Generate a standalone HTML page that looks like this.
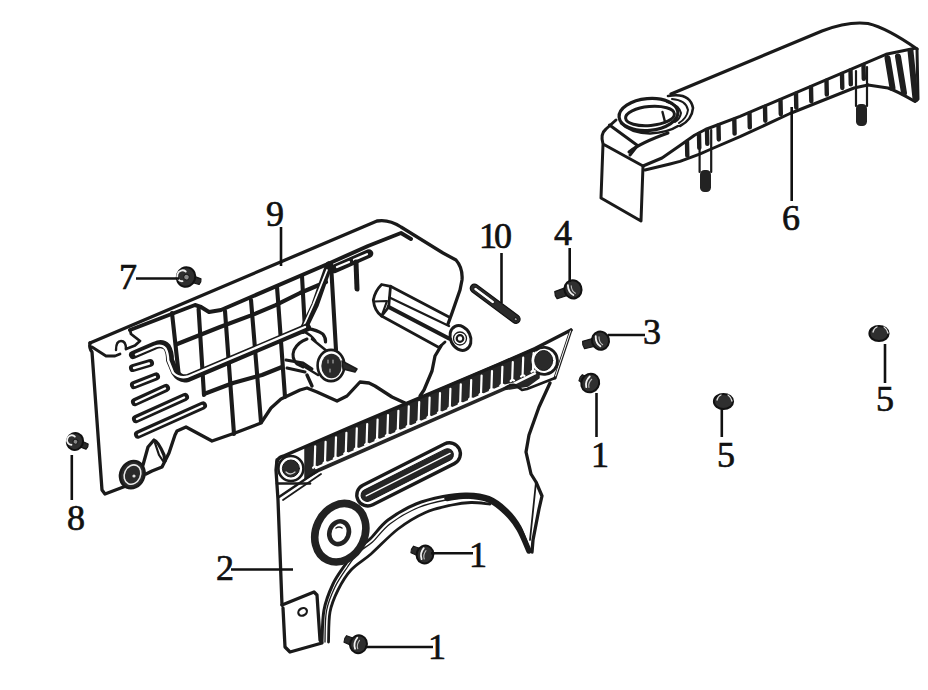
<!DOCTYPE html>
<html><head><meta charset="utf-8">
<style>
html,body{margin:0;padding:0;background:#fff;}
body{width:928px;height:690px;overflow:hidden;}
svg{display:block;}
text{font-family:"Liberation Serif",serif;font-size:36px;fill:#111;stroke:#111;stroke-width:0.7px;}
</style></head>
<body>
<svg width="928" height="690" viewBox="0 0 928 690">
<rect width="928" height="690" fill="#fff"/>
<g fill="none" stroke="#1a1a1a" stroke-linecap="round" stroke-linejoin="round">

<!-- ============ PART 6 (top right cover) ============ -->
<g id="p6" stroke-width="3">
  <!-- top outer edge -->
  <path d="M671 94 L822 31 Q848 21 868 23.5 Q887 28 917 49" stroke-width="3.2"/>
  <!-- right end face -->
  <path d="M917 49 L918 99 L915 101.5 Q897 91 888 88 L868 85"/>
  <!-- top face lower edge -->
  <path d="M643 166 L662 158 L680 145.5 L694.5 135.3 L705.4 129.5 L740 116.4 L886 54.3 L914 48.5"/>
  <!-- fins bottom line -->
  <path d="M645 170 L670 164 L680 161.4 L699.6 154.1 L711.2 149 L740 136.7 L790 113.5 L854 88 L868 85"/>
  <!-- block -->
  <path d="M603 144 L601 198 L641 221 L643 166 L603 144 Q600 134 606 129 L616 120"/>
  <path d="M609.5 125 L637.5 145.5 L630 155"/>
  <path d="M629 152 Q640 143 668 133"/>
  <!-- ring boss -->
  <ellipse cx="648.5" cy="114.5" rx="29.5" ry="16" transform="rotate(-5 648.5 114.5)" stroke-width="3.2"/>
  <ellipse cx="650" cy="116" rx="24.5" ry="9.5" transform="rotate(-5 650 116)" stroke-width="3"/>
  <path d="M621 123 Q630 132.5 650 133.5 Q668 132.5 678 126" stroke-width="2.6"/>
  <path d="M668 96 Q690 92 693 108 Q692 120 680 126" stroke-width="2.6"/>
  <path d="M672 99 Q686 100 688 110 Q687 118 679 123" stroke-width="2"/>
  <path d="M667 102 Q679 105 681 113 Q680 119 675 122" stroke-width="2"/>
  <path d="M662.5 112 L665 122" stroke-width="2.4"/>
</g>
<g id="p6fins" stroke="#1e1e1e" stroke-width="4.4" stroke-linecap="round">
  <path d="M687 141.6 L687.3 155.6 M699 133.9 L699.3 147.9 M707 129.9 L707.3 143.9 M718.5 125.5 L718.8 139.5 M734.3 119.6 L734.5999999999999 133.6 M749.5 113.4 L749.8 127.4 M765 106.8 L765.3 120.8 M780.5 100.2 L780.8 114.2 M796 93.6 L796.3 107.6 M811 87.2 L811.3 101.2 M826.5 80.6 L826.8 94.6 M842 74.0 L842.3 88.0 M850.5 70.4 L850.8 84.4 M863.5 64.9 L863.8 78.9 "/>
  <path d="M887.5 58 L892.5 88 M898 56.5 L904 93 M910.5 51 L915.5 99" stroke-width="6"/>
</g>
<g id="p6pegs" stroke-width="2.2">
  <path d="M699.6 137 L699.6 172 M711.2 130 L711.2 172"/>
  <path d="M856 71 L856 106 M867 67 L867 106"/>
</g>
<g fill="#222" stroke="none">
  <rect x="700" y="170" width="11" height="22" rx="4.5"/>
  <rect x="856" y="104" width="11" height="22" rx="4.5"/>
</g>

<!-- ============ PART 9 (left cover) ============ -->
<g id="p9" stroke-width="3.3">
  <!-- outer outline top + right -->
  <path d="M90 343 L377 221 Q389 219 401 227 L443 253 L456 260 Q463 268 462 280 L460 290 L452 313 L448 324"/>
  <!-- left edge -->
  <path d="M90 343 Q89 348 92 352 L102 490 L105 494 L126 486"/>
  <!-- bottom outline -->
  <path d="M143 465 L148 447 L154 440 Q158 441 164 455 L165 461 L162 467 L152 471 L146 474"/>
  <path d="M155 443 L159 455 L163 461" stroke-width="2.2"/>
  <path d="M165 461 L169 453 L175 435 L177 431 L186 427 L212 441 L235 433 L261 423 L271 408 L281 399 L300 390 L307 388 L317 392 L337 401 L347 396 L360 382 L369 383 L375 386 L392 397 L405 403"/>
  <path d="M441 346 L435 356 L432 371 L424 390 L420 396"/>
  <!-- top face front edge + notch -->
  <path d="M92 347 L106 356 L115 356 L120 354 M126 349 L135 345.5 L140 341 L131 334 L130 330" stroke-width="2.8"/>
  <path d="M116 350 Q116 341 121 341 Q126 341 126 349" stroke-width="2.4"/>
  <!-- rim inner thick line -->
  <path d="M130 330 L195 305 L201 307 L209 312 L221 310 L330 263 L368 246 L401 233 L411 239" stroke-width="4"/>
  <!-- small capsule near T -->
  <path d="M334 269 L369 253.5" stroke-width="8.6"/>
  <path d="M337 267 L349 262 M354 259.8 L367 254.2" stroke="#fff" stroke-width="2.2"/>
  <!-- T drip -->
  <path d="M356 262 L357 289" stroke-width="5"/>
  <!-- grid -->
  <g stroke-width="4.1">
    <path d="M172 313 L179 377"/>
    <path d="M198.6 309 L204 395"/>
    <path d="M225 311 L234 434"/>
    <path d="M251 300 L261 422"/>
    <path d="M277 287 L278 300 L285 397"/>
    <path d="M302 276 L305 330"/>
    <path d="M331 264 L336 350"/>
    <!-- rows -->
    <path d="M176 344.5 L220 327 L250.4 315.7 L275.7 305.2 L300 293 L326 282"/>
    <path d="M204 394 L233 383 L262 375 L282 367"/>
  </g>
  <!-- diagonal double strut -->
  <path d="M329 265 L315 305 L303 330" stroke-width="7.5"/>
  <path d="M327 270 L313 305 L304 325" stroke="#fff" stroke-width="1.8"/>
  <!-- channel (double line) -->
  <path d="M133 355 L155 345.5 Q162 342 167 347 Q170 352 170 360 L175 372 Q180 380 188 378 L307 327.5" stroke-width="8"/>
  <path d="M136 354.5 L155 346.5 Q161.5 344 165.5 348.5 Q168 353 168.2 360.5 L173 372.5 Q179 379 188 376.5 L305 327" stroke="#fff" stroke-width="2.4"/>
  <!-- slots -->
  <g stroke-width="8">
    <path d="M133 368 L150 363"/>
    <path d="M134 385 L156 376.5"/>
    <path d="M135 402 L166 388"/>
    <path d="M136 419 L185 397"/>
    <path d="M138 434.5 L203 405.5"/>
  </g>
  <g stroke-width="2.4" stroke="#fff">
    <path d="M134 368 L149 363.5"/>
    <path d="M135 385 L155 377"/>
    <path d="M136 402 L165 388.5"/>
    <path d="M137 419 L184 397.5"/>
    <path d="M139 434.5 L202 406"/>
  </g>
  <!-- grommet bottom-left -->
  <ellipse cx="132.3" cy="474.6" rx="12" ry="14" transform="rotate(25 132.3 474.6)" fill="#2a2a2a" stroke-width="2.4"/>
  <ellipse cx="132.5" cy="474.6" rx="8" ry="10" transform="rotate(25 132.5 474.6)" stroke="#e8e8e8" stroke-width="1.6"/>
  <circle cx="134" cy="476" r="1.6" fill="#ddd" stroke="none"/>
  <!-- boss cylinder -->
  <path d="M307 339 Q298 342 294 350 Q291 358 297 364 L303 367" stroke-width="3"/>
  <path d="M307.5 328.7 Q317 330 322.8 334 Q326 338 325.5 342" stroke-width="3.2"/>
  <path d="M305.4 332.4 Q311 335 315.2 340.7" stroke-width="2.6"/>
  <path d="M312 339 L328 352" stroke-width="2.6"/>
  <path d="M300 364 L318 375" stroke-width="2.6"/>
  <path d="M286 360 L303 363 L312 369 M287 368 L305 372" stroke-width="3"/>
  <path d="M307 375 L312 386" stroke-width="3.4"/>
  <ellipse cx="331" cy="365.5" rx="13.4" ry="15.6" fill="#fff" stroke-width="2.6"/>
  <ellipse cx="331.5" cy="366" rx="10.2" ry="12.2" fill="#2a2a2a" stroke="none"/>
  <path d="M328 360 v3 M333 360 v3 M330 369 v3" stroke="#aaa" stroke-width="1.2"/>
  <path d="M342 361 L357 369 L355 372 L343 369 Z" fill="#2a2a2a" stroke-width="1.5"/>
  <!-- shaft -->
  <path d="M381.6 284.5 L390.5 286.3 L389.5 297.5 L388.7 307 L381.6 316 Q374.5 311 373.3 300 Q375 291 381.6 284.5 Z" stroke-width="2.8"/>
  <path d="M374 301.5 L387 301 L381.6 316" stroke-width="2.2"/>
  <path d="M390.5 286.3 L449 317 M381.6 316 L439 347.5" stroke-width="2.8"/>
  <path d="M389.5 297.5 L449 326" stroke-width="2.4"/>
  <path d="M388.7 307 L449 338.5" stroke-width="4.2"/>
  <path d="M439 347.5 L445 342" stroke-width="2.8"/>
  <!-- ear -->
  <ellipse cx="460.5" cy="338" rx="10" ry="12.8" transform="rotate(-25 460.5 338)" fill="#fff" stroke-width="3"/>
  <circle cx="460" cy="338.5" r="6.5" stroke-width="1.3"/>
  <circle cx="460" cy="338.5" r="3.3" stroke-width="2.2"/>
</g>
<!-- ============ PART 2 (front cover) ============ -->
<g id="p2">
  <!-- dark fin strip -->
  <path d="M305 446.7 L539 346.5 L539 378 L528 386 L505 389.6 L440 418.0 L320 470.7 L305 479.2 Z" fill="#262626" stroke="#262626" stroke-width="1.5"/>
  <path d="M315.2 446.3 L314.6 466.3 l-1.5 1.5 M314.6 466.3 l1.8 0.8 M325.6 441.8 L325.0 461.7 l-1.5 1.5 M325.0 461.7 l1.8 0.8 M336.0 437.3 L335.4 457.1 l-1.5 1.5 M335.4 457.1 l1.8 0.8 M346.4 432.9 L345.8 452.4 l-1.5 1.5 M345.8 452.4 l1.8 0.8 M356.8 428.4 L356.2 447.9 l-1.5 1.5 M356.2 447.9 l1.8 0.8 M367.2 424.0 L366.6 443.3 l-1.5 1.5 M366.6 443.3 l1.8 0.8 M377.6 419.6 L377.0 438.8 l-1.5 1.5 M377.0 438.8 l1.8 0.8 M388.0 415.2 L387.4 434.3 l-1.5 1.5 M387.4 434.3 l1.8 0.8 M398.4 410.8 L397.8 429.7 l-1.5 1.5 M397.8 429.7 l1.8 0.8 M408.8 406.4 L408.2 425.2 l-1.5 1.5 M408.2 425.2 l1.8 0.8 M419.2 402.0 L418.6 420.6 l-1.5 1.5 M418.6 420.6 l1.8 0.8 M429.6 397.6 L429.0 416.1 l-1.5 1.5 M429.0 416.1 l1.8 0.8 M440.0 393.2 L439.4 411.5 l-1.5 1.5 M439.4 411.5 l1.8 0.8 M450.4 388.8 L449.8 407.0 l-1.5 1.5 M449.8 407.0 l1.8 0.8 M460.8 384.4 L460.2 402.5 l-1.5 1.5 M460.2 402.5 l1.8 0.8 M471.2 380.0 L470.6 397.9 l-1.5 1.5 M470.6 397.9 l1.8 0.8 M481.6 375.6 L481.0 393.4 l-1.5 1.5 M481.0 393.4 l1.8 0.8 M492.0 371.2 L491.4 388.8 l-1.5 1.5 M491.4 388.8 l1.8 0.8 M502.4 366.8 L501.8 384.3 l-1.5 1.5 M501.8 384.3 l1.8 0.8 M512.8 362.2 L512.2 379.6 l-1.5 1.5 M512.2 379.6 l1.8 0.8 M523.2 357.7 L522.6 375.0 l-1.5 1.5 M522.6 375.0 l1.8 0.8 M533.6 353.2 L533.0 370.3 l-1.5 1.5 M533.0 370.3 l1.8 0.8" stroke="#fff" stroke-width="2.2" stroke-linecap="round" fill="none"/>
  <path d="M316 468.0 L503 386.1 L514 383.7 L548 366.9 L555 374" stroke="#fff" stroke-width="2.4" fill="none"/>
  <!-- outline -->
  <g fill="none" stroke="#1a1a1a" stroke-width="3.3" stroke-linecap="round" stroke-linejoin="round">
    <path d="M277 462 Q278 457.5 283 456.2 L350 427.3 L500 363.8 L535 348.6 L571 330" stroke-width="3.4"/>
    <path d="M571 330 L555 378" stroke-width="3"/>
    <path d="M570.5 331 L555.5 376" stroke="#fff" stroke-width="1"/>
    <path d="M550 383 L539 407 L529 435 L526 452 L531 474 L536 482 L542 496 L539 509 L533 540 L532 552"/>
    <path d="M536 482 L530 540" stroke-width="1.8"/>
    <!-- notch under strip right -->
    <path d="M505 388 Q510 384 515 385 L522 390 L527 389 L555 378" stroke-width="2.6"/>
    <!-- left edge -->
    <path d="M277 460 L276 470 L278 500 L282 605"/>
    <!-- bracket -->
    <path d="M282 605 L314 592 L317 595 L320 640 L322 643 L290 652 L285 647 L283 608"/>
    <ellipse cx="302.6" cy="611.9" rx="4.5" ry="3.6" transform="rotate(-30 302.6 611.9)" stroke-width="2.2"/>
    <!-- lines below strip left -->
    <path d="M277 483.5 L310 483.5" stroke-width="2.6"/>
    <path d="M279 497 L319 470" stroke-width="2.6"/>
    <path d="M283 500 L321 474" stroke-width="1.8"/>
    <!-- big arc double -->
    <path d="M322.0 642.0 C322.3 636.7 322.2 619.7 324.0 610.0 C325.8 600.3 329.5 591.5 333.0 584.0 C336.5 576.5 341.2 570.7 345.0 565.0 C348.8 559.3 351.8 554.3 356.0 550.0 C360.2 545.7 364.7 544.0 370.0 539.0 C375.3 534.0 380.3 525.8 388.0 520.0 C395.7 514.2 406.8 507.9 416.0 504.0 C425.2 500.1 434.5 498.2 443.0 496.5 C451.5 494.8 459.3 493.8 467.0 494.0 C474.7 494.2 482.3 494.8 489.0 497.5 C495.7 500.2 501.8 505.1 507.0 510.0 C512.2 514.9 516.2 520.1 520.0 527.0 C523.8 533.9 527.9 547.4 529.5 551.5" stroke-width="3"/>
    <path d="M447.0 498.5 C450.3 498.1 460.0 495.8 467.0 496.0 C474.0 496.2 482.5 497.2 489.0 500.0 C495.5 502.8 501.0 507.7 506.0 512.5 C511.0 517.3 515.2 522.6 519.0 529.0 C522.8 535.4 527.3 547.3 529.0 551.0" stroke-width="5.5"/>
    <path d="M328.5 642.0 C328.8 637.0 328.4 620.7 330.0 612.0 C331.6 603.3 334.5 597.0 338.0 590.0 C341.5 583.0 345.5 576.0 351.0 570.0 C356.5 564.0 363.2 560.8 371.0 554.0 C378.8 547.2 388.9 535.9 398.0 529.0 C407.1 522.1 416.5 516.5 425.5 512.5 C434.5 508.5 444.4 506.7 452.0 505.0 C459.6 503.3 464.7 502.7 471.0 502.5 C477.3 502.3 486.8 503.8 490.0 504.0" stroke-width="2.8"/>
    <path d="M325.0 642.0 C325.2 636.8 324.8 620.2 326.5 611.0 C328.2 601.8 331.5 594.3 335.0 587.0 C338.5 579.7 343.6 572.8 347.5 567.0 C351.4 561.2 354.3 556.7 358.5 552.5 C362.7 548.3 367.2 546.8 372.5 542.0 C377.8 537.2 382.8 529.2 390.5 523.5 C398.2 517.8 409.2 511.4 418.5 507.5 C427.8 503.6 437.8 501.6 446.0 500.0 C454.2 498.4 464.3 498.3 468.0 498.0" stroke-width="1.3"/>
  </g>
  <!-- bolt holes -->
  <circle cx="290.9" cy="468.5" r="12.5" fill="#fff" stroke="#1a1a1a" stroke-width="2.6"/>
  <circle cx="290.9" cy="468.5" r="8.5" fill="#2a2a2a"/>
  <path d="M286 472 Q290 476 295 472" stroke="#ccc" stroke-width="1.2" fill="none"/>
  <circle cx="544" cy="360.5" r="12.5" fill="#fff" stroke="none"/>
  <path d="M536 350 A13.5 13.5 0 1 1 537 372.5" fill="none" stroke="#1a1a1a" stroke-width="2.8"/>
  <ellipse cx="543.7" cy="360.5" rx="9" ry="10" fill="#2a2a2a"/>
  <!-- slot -->
  <g transform="rotate(-26.8 367.8 495)">
    <rect x="356.8" y="484" width="113.4" height="22" rx="11" fill="none" stroke="#1a1a1a" stroke-width="3.4"/>
    <rect x="361" y="489" width="102" height="12" rx="6" fill="#262626"/>
    <path d="M366 495 H460" stroke="#fff" stroke-width="1.4"/>
  </g>
  <!-- washer -->
  <ellipse cx="340.3" cy="532.7" rx="24.4" ry="30.2" transform="rotate(25 340.3 532.7)" fill="none" stroke="#222" stroke-width="7.6"/>
  <ellipse cx="339.1" cy="532.7" rx="9.6" ry="11.6" transform="rotate(20 339.1 532.7)" fill="none" stroke="#222" stroke-width="4.6"/>
  <path d="M336 528 Q339 526 342 528" fill="none" stroke="#222" stroke-width="1.5"/>
</g>

<!-- ============ BOLTS ============ -->
<g id="bolts">
<g transform="translate(186.0 277.0) rotate(18.4)">
  <path d="M0 -3.5 L14.8 -3.0 Q16.3 0 14.8 3.0 L0 3.5 Z" fill="#2b2b2b" stroke="#151515" stroke-width="1.2"/>
  <ellipse rx="9.2" ry="9.9" fill="#2f2f2f" stroke="#111" stroke-width="2"/>
  <path d="M-2 -5.1 A5.1 5.5 0 1 0 -2 5.1" fill="none" stroke="#f0f0f0" stroke-width="1.8"/>
  <circle cx="0.5" cy="0" r="2.8" fill="#888"/>
</g>
<g transform="translate(75.0 441.5) rotate(22.9)">
  <path d="M0 -3.2 L13.1 -2.8 Q14.6 0 13.1 2.8 L0 3.2 Z" fill="#2b2b2b" stroke="#151515" stroke-width="1.2"/>
  <ellipse rx="8" ry="8.6" fill="#2f2f2f" stroke="#111" stroke-width="2"/>
  <path d="M-2 -4.4 A4.4 4.8 0 1 0 -2 4.4" fill="none" stroke="#f0f0f0" stroke-width="1.8"/>
  <circle cx="0.5" cy="0" r="2.4" fill="#888"/>
</g>
<g transform="translate(573.0 289.3) rotate(161.0)">
  <path d="M0 -4.2 L18.0 -3.8 Q19.5 0 18.0 3.8 L0 4.2 Z" fill="#2b2b2b" stroke="#151515" stroke-width="1.2"/>
  <ellipse rx="8.5" ry="9.2" fill="#2f2f2f" stroke="#111" stroke-width="2"/>
  <path d="M1.5 -5.5 Q5.5 -1 3.5 5.5" fill="none" stroke="#f2f2f2" stroke-width="1.8" stroke-linecap="round"/>
  <path d="M-1 -4.5 Q2 -1 0.5 4" fill="none" stroke="#bbb" stroke-width="1.1" stroke-linecap="round"/>
</g>
<g transform="translate(600.5 340.6) rotate(165.3)">
  <path d="M0 -4.2 L17.5 -3.8 Q19.0 0 17.5 3.8 L0 4.2 Z" fill="#2b2b2b" stroke="#151515" stroke-width="1.2"/>
  <ellipse rx="8.5" ry="9.2" fill="#2f2f2f" stroke="#111" stroke-width="2"/>
  <path d="M1.5 -5.5 Q5.5 -1 3.5 5.5" fill="none" stroke="#f2f2f2" stroke-width="1.8" stroke-linecap="round"/>
  <path d="M-1 -4.5 Q2 -1 0.5 4" fill="none" stroke="#bbb" stroke-width="1.1" stroke-linecap="round"/>
</g>
<g transform="translate(590.2 383.0) rotate(-151.3)">
  <path d="M0 -4.0 L10.9 -3.5 Q12.4 0 10.9 3.5 L0 4.0 Z" fill="#2b2b2b" stroke="#151515" stroke-width="1.2"/>
  <ellipse rx="8.8" ry="9.5" fill="#2f2f2f" stroke="#111" stroke-width="2"/>
  <path d="M1.5 -5.5 Q5.5 -1 3.5 5.5" fill="none" stroke="#f2f2f2" stroke-width="1.8" stroke-linecap="round"/>
  <path d="M-1 -4.5 Q2 -1 0.5 4" fill="none" stroke="#bbb" stroke-width="1.1" stroke-linecap="round"/>
</g>
<g transform="translate(425.0 554.5) rotate(-158.5)">
  <path d="M0 -4.0 L13.7 -3.5 Q15.2 0 13.7 3.5 L0 4.0 Z" fill="#2b2b2b" stroke="#151515" stroke-width="1.2"/>
  <ellipse rx="8.3" ry="9.0" fill="#2f2f2f" stroke="#111" stroke-width="2"/>
  <path d="M1.5 -5.5 Q5.5 -1 3.5 5.5" fill="none" stroke="#f2f2f2" stroke-width="1.8" stroke-linecap="round"/>
  <path d="M-1 -4.5 Q2 -1 0.5 4" fill="none" stroke="#bbb" stroke-width="1.1" stroke-linecap="round"/>
</g>
<g transform="translate(358.5 644.2) rotate(-158.3)">
  <path d="M0 -4.0 L14.2 -3.5 Q15.7 0 14.2 3.5 L0 4.0 Z" fill="#2b2b2b" stroke="#151515" stroke-width="1.2"/>
  <ellipse rx="8.3" ry="9.0" fill="#2f2f2f" stroke="#111" stroke-width="2"/>
  <path d="M1.5 -5.5 Q5.5 -1 3.5 5.5" fill="none" stroke="#f2f2f2" stroke-width="1.8" stroke-linecap="round"/>
  <path d="M-1 -4.5 Q2 -1 0.5 4" fill="none" stroke="#bbb" stroke-width="1.1" stroke-linecap="round"/>
</g>
<ellipse cx="723.5" cy="401.5" rx="9.6" ry="7.6" fill="#2f2f2f" stroke="#111" stroke-width="2"/>
<path d="M717 400 Q718 396 721 395 M728 395 Q731 397 732 401" fill="none" stroke="#ddd" stroke-width="1.3"/>
<ellipse cx="879" cy="333.5" rx="9.6" ry="7.6" fill="#2f2f2f" stroke="#111" stroke-width="2"/>
<path d="M873 332 Q874 328 877 327 M884 327 Q887 329 888 333" fill="none" stroke="#ddd" stroke-width="1.3"/>
<!-- pin 10 -->
<g transform="translate(474.5 288.3) rotate(36.7)">
  <rect x="-4.2" y="-4.2" width="60" height="8.4" rx="4.2" fill="#2b2b2b" stroke="#111" stroke-width="1.2"/>
  <rect x="-0.5" y="-1.7" width="25" height="3.4" rx="1.7" fill="#fff"/>
  <rect x="50" y="-1.2" width="3" height="2.6" fill="#aaa"/>
</g>
</g>

<!-- ============ LEADER LINES ============ -->
<g stroke="#111" stroke-width="2.6" stroke-linecap="butt">
  <path d="M281 227 V266"/>
  <path d="M136 278.5 H179"/>
  <path d="M501.5 253 V303"/>
  <path d="M569.7 248 V282"/>
  <path d="M608 335 H645"/>
  <path d="M791.7 107 V201"/>
  <path d="M596.5 393 V437"/>
  <path d="M721.8 409 V437"/>
  <path d="M885 344 V383"/>
  <path d="M71.8 455 V500"/>
  <path d="M231 569.5 H293"/>
  <path d="M431 553.3 H473"/>
  <path d="M365 647 H433"/>
</g>
</g>

<!-- ============ LABELS ============ -->
<g>
  <text x="266" y="226">9</text>
  <text x="119" y="289">7</text>
  <text x="479" y="248" letter-spacing="-3">10</text>
  <text x="554" y="244.5">4</text>
  <text x="643" y="344">3</text>
  <text x="782" y="230">6</text>
  <text x="591" y="466.5">1</text>
  <text x="717" y="466.5">5</text>
  <text x="876" y="411">5</text>
  <text x="67" y="529.5">8</text>
  <text x="216" y="580">2</text>
  <text x="469" y="567">1</text>
  <text x="428" y="659">1</text>
</g>
</svg>
</body></html>
